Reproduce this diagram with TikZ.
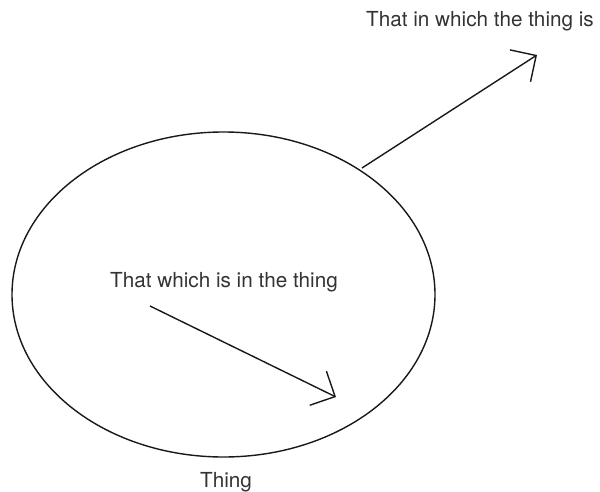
\documentclass[tikz,border=0pt]{standalone}
\usepackage{fontspec}
\setmainfont{TeX Gyre Heros}
\usetikzlibrary{arrows.meta,shapes.geometric}
\definecolor{txt}{HTML}{333333}
\begin{document}
\begin{tikzpicture}[x=1pt,y=-1pt,
  lbl/.style={anchor=base,inner sep=0pt,text=txt,font=\fontsize{20.7}{24}\selectfont},
  conn/.style={line width=1.4pt,draw=black!90,-{Straight Barb[length=19pt,width=38pt,line width=1.4pt]}},
  thingshape/.style={ellipse,draw=black!90,line width=1.4pt,minimum width=423pt,minimum height=325pt,inner sep=0pt}]
\useasboundingbox (0,0) rectangle (600,492);
\node[thingshape] (thing) at (223.5,294.5) {};
\node[lbl] (outer) at (480,27) {That in which the thing is};
\node[lbl] (inner) at (224,287) {That which is in the thing};
\node[lbl] (name) at (226,487) {Thing};
\coordinate (s1) at (362,168);
\coordinate (t1) at (537,55);
\coordinate (s2) at (150,306);
\coordinate (t2) at (336,397);
\draw[conn] (s1) -- (t1);
\draw[conn] (s2) -- (t2);
\end{tikzpicture}
\end{document}
